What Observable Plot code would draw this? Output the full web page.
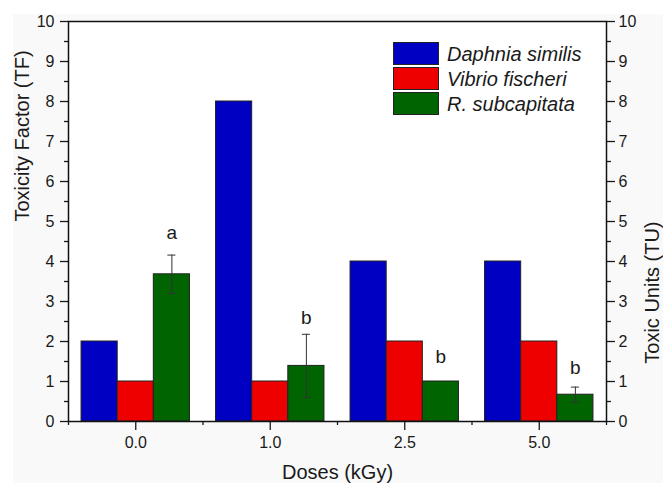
<!DOCTYPE html>
<html>
<head>
<meta charset="utf-8">
<script src="https://cdn.jsdelivr.net/npm/d3@7"></script>
<script src="https://cdn.jsdelivr.net/npm/@observablehq/plot@0.6"></script>
<style>
  html, body { margin: 0; padding: 0; background: #ffffff; }
  #wrap { position: relative; width: 663px; height: 483px; overflow: hidden; font-family: "Liberation Sans", Arial, sans-serif; color: #1a1a1a; }
  #bg { position: absolute; left: 13px; top: 14px; right: 0; bottom: 0; background: #f9f9f9; }
  #chart { position: absolute; left: 0; top: 0; }
  #legend { position: absolute; left: 393px; top: 41px; }
  .row { display: flex; align-items: center; height: 25px; }
  .sw { width: 44px; height: 21px; border: 1px solid #222; margin-right: 8px; box-sizing: content-box; }
  .lab { font-style: italic; font-size: 20px; line-height: 22px; }
</style>
</head>
<body>
<div id="wrap">
  <div id="bg"></div>
  <div id="chart"></div>
  <div id="legend"></div>
</div>
<script>
// ---- data ----
const doses = ["0.0", "1.0", "2.5", "5.0"];
const species = ["Daphnia similis", "Vibrio fischeri", "R. subcapitata"];
const daphnia = [2, 8, 4, 4];
const vibrio = [1, 1, 2, 2];
const rsub = [3.68, 1.39, 1.0, 0.67];
const rsubErr = [0.48, 0.79, 0, 0.19];
const letters = ["a", "b", "b", "b"];
const letterY = [4.72, 2.6, 1.62, 1.35];
const yTicks = [0, 1, 2, 3, 4, 5, 6, 7, 8, 9, 10];
const colors = ["#0000c2", "#ee0000", "#006400"];

// ---- layout helpers ----
const barW = 36 / 134;          // bar width as fraction of a group slot
const groupHalf = 1.5 * barW;

const seriesArrays = [daphnia, vibrio, rsub];
const rows = doses.flatMap((d, i) =>
  seriesArrays.map((arr, k) => ({ i, k, dose: d, species: species[k], value: arr[i] }))
);
const errRows = doses.map((d, i) => ({ i, v: rsub[i], e: rsubErr[i] })).filter(d => d.e > 0);
const letterRows = doses.map((d, i) => ({ i, t: letters[i], y: letterY[i] }));
const minorY = yTicks.slice(0, -1).map(t => t + 0.5);
const majorX = doses.map((d, i) => i);
const minorX = [-0.5, ...doses.map((d, i) => i + 0.5)];

const ink = "#1a1a1a";

const chart = Plot.plot({
  width: 663,
  height: 483,
  marginLeft: 68,
  marginRight: 57,
  marginTop: 21,
  marginBottom: 62,
  x: { domain: [-0.5, 3.5], axis: null },
  y: { domain: [0, 10], axis: null },
  color: { domain: species, range: colors },
  style: { fontFamily: "'Liberation Sans', Arial, sans-serif", background: "transparent", color: ink, overflow: "visible" },
  marks: [
    Plot.frame({ fill: "white" }),
    Plot.rectY(rows, {
      x1: d => d.i - groupHalf + d.k * barW,
      x2: d => d.i - groupHalf + (d.k + 1) * barW,
      y1: 0,
      y2: "value",
      fill: "species",
      stroke: "#222",
      strokeWidth: 1
    }),
    Plot.ruleX(errRows, { x: d => d.i + barW, y1: d => d.v - d.e, y2: d => d.v + d.e, stroke: "#333", strokeWidth: 1 }),
    Plot.ruleY(errRows, { y: d => d.v + d.e, x1: d => d.i + barW - 0.03, x2: d => d.i + barW + 0.03, stroke: "#333", strokeWidth: 1 }),
    Plot.ruleY(errRows, { y: d => d.v - d.e, x1: d => d.i + barW - 0.03, x2: d => d.i + barW + 0.03, stroke: "#333", strokeWidth: 1 }),
    Plot.text(letterRows, { x: d => d.i + barW, y: "y", text: "t", fontSize: 19, lineAnchor: "middle", fill: ink }),
    // left axis
    Plot.axisY({ anchor: "left", ticks: yTicks, tickSize: 8, tickPadding: 6, fontSize: 16, tickFormat: d3.format("d"), label: null, strokeWidth: 1.3 }),
    Plot.axisY({ anchor: "left", ticks: minorY, tickSize: 4, tickFormat: () => "", label: null, strokeWidth: 1.3 }),
    // right axis
    Plot.axisY({ anchor: "right", ticks: yTicks, tickSize: 8, tickPadding: 4, fontSize: 16, tickFormat: d3.format("d"), label: null, strokeWidth: 1.3 }),
    Plot.axisY({ anchor: "right", ticks: minorY, tickSize: 4, tickFormat: () => "", label: null, strokeWidth: 1.3 }),
    // bottom axis
    Plot.axisX({ anchor: "bottom", ticks: majorX, tickSize: 9, tickPadding: 6, fontSize: 16, tickFormat: i => doses[i], label: null, strokeWidth: 1.3 }),
    Plot.axisX({ anchor: "bottom", ticks: minorX, tickSize: 4, tickFormat: () => "", label: null, strokeWidth: 1.3 }),
    // titles
    Plot.text(["Toxicity Factor (TF)"], { text: d => d, frameAnchor: "left", dx: -46, rotate: -90, fontSize: 20, fill: ink }),
    Plot.text(["Toxic Units (TU)"], { text: d => d, frameAnchor: "right", dx: 46, rotate: -90, fontSize: 20, fill: ink }),
    Plot.text(["Doses (kGy)"], { text: d => d, frameAnchor: "bottom", dy: 51, lineAnchor: "middle", fontSize: 20, fill: ink }),
    Plot.frame({ stroke: "#111", strokeWidth: 1.5 })
  ]
});
document.getElementById("chart").appendChild(chart);

// legend
const legend = document.getElementById("legend");
species.forEach((s, k) => {
  const row = document.createElement("div");
  row.className = "row";
  const sw = document.createElement("div");
  sw.className = "sw";
  sw.style.background = colors[k];
  const lab = document.createElement("span");
  lab.className = "lab";
  lab.textContent = s;
  row.appendChild(sw);
  row.appendChild(lab);
  legend.appendChild(row);
});
</script>
</body>
</html>
